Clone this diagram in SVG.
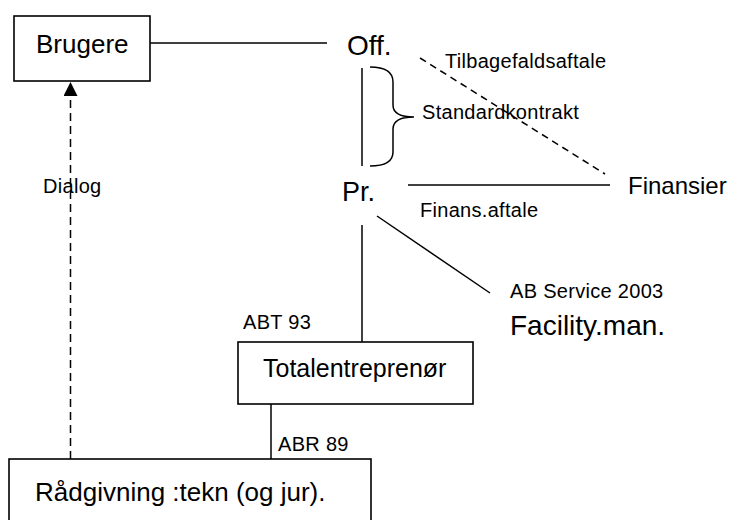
<svg xmlns="http://www.w3.org/2000/svg" width="739" height="520" viewBox="0 0 739 520">
<style>
.box{fill:#fff;stroke:#000;stroke-width:1.6}
.ln{fill:none;stroke:#000;stroke-width:1.5}
.dash{fill:none;stroke:#000;stroke-width:1.5;stroke-dasharray:8,5}
.big{font-family:"Liberation Sans",Arial,sans-serif;font-size:25px;fill:#000}
.sm{font-family:"Liberation Sans",Arial,sans-serif;font-size:20px;letter-spacing:0.3px;fill:#000}
</style>
<defs>
<marker id="arr" viewBox="0 0 10 10" refX="10" refY="5" markerWidth="14" markerHeight="14" markerUnits="userSpaceOnUse" orient="auto">
<path d="M0,0 L10,5 L0,10 z" fill="#000"/>
</marker>
</defs>
<rect width="739" height="520" fill="#fff"/>
<g id="connectors">
<line class="ln" x1="150" y1="43" x2="327" y2="43"/>
<line class="dash" x1="70.5" y1="459" x2="70.5" y2="82" marker-end="url(#arr)"/>
<line class="ln" x1="362" y1="68" x2="362" y2="166"/>
<path class="ln" d="M370,67 Q393,67 393,82 L393,105 Q393,117 414,117 Q393,117 393,129 L393,152 Q393,166 370,166"/>
<line class="dash" x1="420" y1="58" x2="605" y2="174" style="stroke-dasharray:7,5"/>
<line class="ln" x1="408" y1="185" x2="610" y2="185"/>
<line class="ln" x1="377" y1="216" x2="490" y2="293"/>
<line class="ln" x1="362" y1="225" x2="362" y2="342"/>
<line class="ln" x1="271" y1="404" x2="271" y2="459"/>
<text class="sm" x="445" y="68">Tilbagefaldsaftale</text>
<text class="sm" x="422" y="119">Standardkontrakt</text>
<text class="sm" x="420" y="217">Finans.aftale</text>
<text class="sm" x="510" y="298">AB Service 2003</text>
<text class="sm" x="243" y="329">ABT 93</text>
<text class="sm" x="278" y="451">ABR 89</text>
<text class="sm" x="43" y="193">Dialog</text>
</g>
<g id="brugere">
<rect class="box" x="14" y="16" width="136" height="65"/>
<text class="big" x="36" y="53" style="font-size:26px">Brugere</text>
</g>
<g id="off">
<text class="big" x="347" y="55" style="font-size:28px">Off.</text>
</g>
<g id="pr">
<text class="big" x="342" y="201" style="font-size:27px">Pr.</text>
</g>
<g id="finansier">
<text class="big" x="628" y="194" style="font-size:24px">Finansier</text>
</g>
<g id="facility">
<text class="big" x="510" y="335" style="font-size:28px">Facility.man.</text>
</g>
<g id="totalentreprenor">
<rect class="box" x="238" y="342" width="235" height="62"/>
<text class="big" x="263" y="377">Totalentreprenør</text>
</g>
<g id="raadgivning">
<rect class="box" x="9" y="459" width="362" height="70"/>
<text class="big" x="35" y="501" style="font-size:26px">Rådgivning :tekn (og jur).</text>
</g>
</svg>
